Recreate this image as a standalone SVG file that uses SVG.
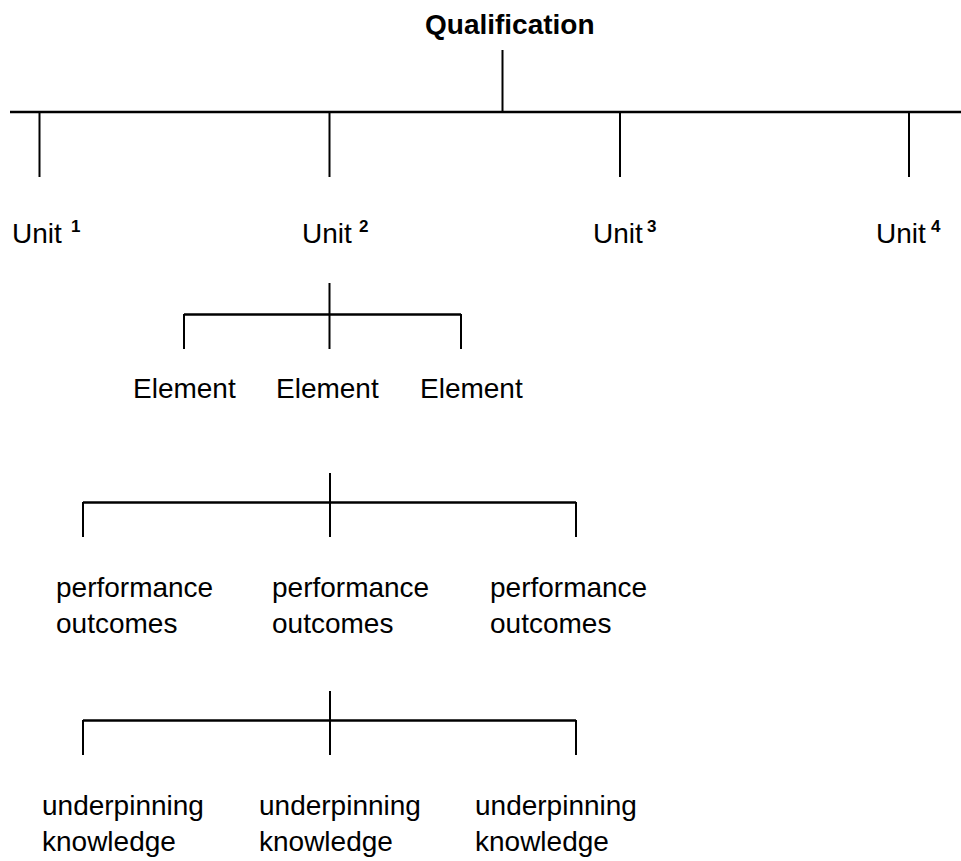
<svg xmlns="http://www.w3.org/2000/svg" width="961" height="861" viewBox="0 0 961 861">
<style>
text { font-family: "Liberation Sans", Arial, sans-serif; font-size: 28px; fill: #000; }
.title { font-weight: bold; }
.sup { font-size: 17px; font-weight: bold; }
.conn line { stroke: #000; stroke-width: 2; stroke-linecap: butt; }
.conn line.h { stroke-width: 2.5; }
</style>
<rect width="961" height="861" fill="#fff"/>
<g id="connectors" class="conn">
  <line x1="502.5" y1="50" x2="502.5" y2="113"/>
  <line class="h" x1="10" y1="112" x2="961" y2="112"/>
  <line x1="39.5" y1="112" x2="39.5" y2="177"/>
  <line x1="329.5" y1="112" x2="329.5" y2="177"/>
  <line x1="620" y1="112" x2="620" y2="177"/>
  <line x1="909" y1="112" x2="909" y2="177"/>

  <line x1="329.5" y1="283" x2="329.5" y2="349"/>
  <line class="h" x1="184" y1="314.5" x2="461" y2="314.5"/>
  <line x1="184" y1="314" x2="184" y2="349"/>
  <line x1="461" y1="314" x2="461" y2="349"/>

  <line x1="330" y1="473" x2="330" y2="537"/>
  <line class="h" x1="83" y1="502.5" x2="576" y2="502.5"/>
  <line x1="83" y1="502" x2="83" y2="537"/>
  <line x1="576" y1="502" x2="576" y2="537"/>

  <line x1="330" y1="691" x2="330" y2="755"/>
  <line class="h" x1="83" y1="720.5" x2="576" y2="720.5"/>
  <line x1="83" y1="720" x2="83" y2="755"/>
  <line x1="576" y1="720" x2="576" y2="755"/>
</g>
<g id="qualification"><text class="title" x="425" y="34">Qualification</text></g>
<g id="unit1"><text x="12" y="243">Unit</text><text class="sup" x="71" y="232">1</text></g>
<g id="unit2"><text x="302" y="243">Unit</text><text class="sup" x="359" y="232">2</text></g>
<g id="unit3"><text x="593" y="243">Unit</text><text class="sup" x="647" y="232">3</text></g>
<g id="unit4"><text x="876" y="243">Unit</text><text class="sup" x="931" y="232">4</text></g>
<g id="element1"><text x="133" y="398">Element</text></g>
<g id="element2"><text x="276" y="398">Element</text></g>
<g id="element3"><text x="420" y="398">Element</text></g>
<g id="performance1"><text x="56" y="597">performance</text><text x="56" y="633">outcomes</text></g>
<g id="performance2"><text x="272" y="597">performance</text><text x="272" y="633">outcomes</text></g>
<g id="performance3"><text x="490" y="597">performance</text><text x="490" y="633">outcomes</text></g>
<g id="knowledge1"><text x="42" y="815">underpinning</text><text x="42" y="851">knowledge</text></g>
<g id="knowledge2"><text x="259" y="815">underpinning</text><text x="259" y="851">knowledge</text></g>
<g id="knowledge3"><text x="475" y="815">underpinning</text><text x="475" y="851">knowledge</text></g>
</svg>
